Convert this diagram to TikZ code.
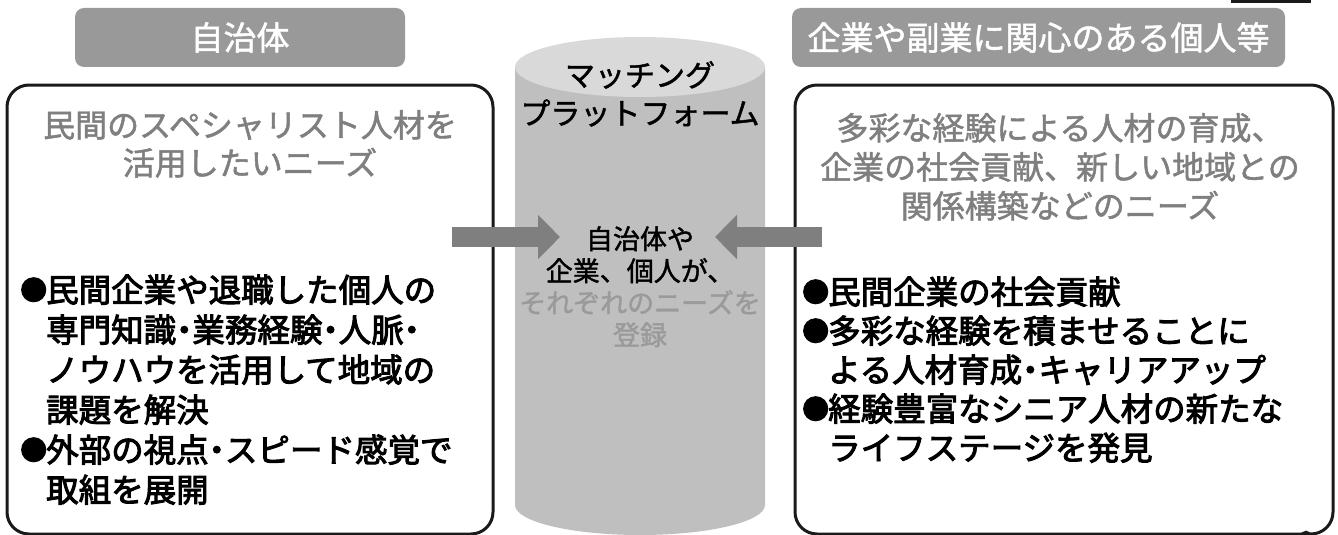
\documentclass[tikz,border=0pt]{standalone}
\usepackage{fontspec}
\setmainfont[FakeBold=1.5]{Noto Sans CJK JP}
\newfontfamily\jpbold[FakeBold=3]{Noto Sans CJK JP}
\usetikzlibrary{arrows.meta}
\definecolor{hdrgray}{HTML}{999999}
\definecolor{titlegray}{HTML}{7F7F7F}
\definecolor{softgray}{HTML}{9A9A9A}
\definecolor{arrowgray}{HTML}{7F7F7F}
\definecolor{cylbody}{HTML}{BFBFBF}
\definecolor{cyltop}{HTML}{D9D9D9}
\definecolor{edge}{HTML}{1A1A1A}
\begin{document}
\begin{tikzpicture}[x=1pt,y=-1pt,
  hdr/.style={fill=hdrgray, rounded corners=9pt, minimum height=59pt, inner sep=0pt, text=white, font=\fontsize{33}{33}\selectfont},
  panel/.style={draw=edge, line width=3pt, rounded corners=22pt, inner sep=0pt},
  ttl/.style={anchor=base, inner sep=0pt, text=titlegray, font=\fontsize{32}{32}\selectfont},
  bul/.style={anchor=base west, inner sep=0pt, font=\jpbold\fontsize{32.5}{32.5}\selectfont},
  cyltxt/.style={anchor=base, inner sep=0pt, font=\fontsize{30}{30}\selectfont},
  ctr/.style={anchor=base, inner sep=0pt, font=\fontsize{27}{27}\selectfont},
  bigarrow/.style={draw=arrowgray, line width=20pt, -{Triangle[length=22pt,width=43pt]}},
  frag/.style={draw=edge, line width=2.5pt}
]
\useasboundingbox (0,0) rectangle (1338,535);
\newcommand{\bl}{\llap{\raisebox{2pt}{\fontsize{27}{27}\selectfont ●}\kern-1pt}}
\newcommand{\nd}{\makebox[0.5em][c]{・}}

% headers
\node[hdr, minimum width=330pt] (hl) at (240,37.5) {自治体};
\node[hdr, minimum width=493pt] (hr) at (1038.5,37.5) {企業や副業に関心のある個人等};

% panels
\node[panel, minimum width=486pt, minimum height=449pt] (pl) at (250,309.5) {};
\node[panel, minimum width=538pt, minimum height=449pt] (pr) at (1064,309.5) {};

% cylinder
\fill[cylbody] (515,67) -- (515,505) arc (180:0:125 and 30) -- (765,67) -- cycle;
\fill[cyltop] (640,67) ellipse (125 and 30);
\node[cyltxt] (c1) at (640,86.4) {マッチング};
\node[cyltxt] (c2) at (640,124.4) {プラットフォーム};
\node[ctr] (m1) at (640,249) {自治体や};
\node[ctr] (m2) at (640,281) {企業、個人が、};
\node[ctr, text=softgray] (m3) at (640,313) {それぞれのニーズを};
\node[ctr, text=softgray] (m4) at (640,345) {登録};

% left texts
\node[ttl] (lt1) at (250,137) {民間のスペシャリスト人材を};
\node[ttl] (lt2) at (250,175) {活用したいニーズ};
\node[bul] (lb1) at (46,302) {\bl 民間企業や退職した個人の};
\node[bul] (lb2) at (46,342) {専門知識\nd 業務経験\nd 人脈\nd};
\node[bul] (lb3) at (46,382) {ノウハウを活用して地域の};
\node[bul] (lb4) at (46,422) {課題を解決};
\node[bul] (lb5) at (46,462) {\bl 外部の視点\nd スピード感覚で};
\node[bul] (lb6) at (46,502) {取組を展開};

% right texts
\node[ttl] (rt1) at (1060,140) {多彩な経験による人材の育成、};
\node[ttl] (rt2) at (1060,179) {企業の社会貢献、新しい地域との};
\node[ttl] (rt3) at (1060,218) {関係構築などのニーズ};
\node[bul] (rb1) at (828,304) {\bl 民間企業の社会貢献};
\node[bul] (rb2) at (828,343) {\bl 多彩な経験を積ませることに};
\node[bul] (rb3) at (828,382) {よる人材育成\nd キャリアアップ};
\node[bul] (rb4) at (828,421) {\bl 経験豊富なシニア人材の新たな};
\node[bul] (rb5) at (828,460) {ライフステージを発見};

% arrows
\coordinate (la) at (452,237);
\coordinate (lh) at (560,237);
\coordinate (ra) at (822,237);
\coordinate (rh) at (715,237);
\draw[bigarrow] (la) -- (lh);
\draw[bigarrow] (ra) -- (rh);

% edge fragments
\draw[frag] (1232,-10) -- (1232,1.5) -- (1310,1.5) -- (1310,-10);
\draw[frag] (1306,537) circle (5);
\end{tikzpicture}
\end{document}
